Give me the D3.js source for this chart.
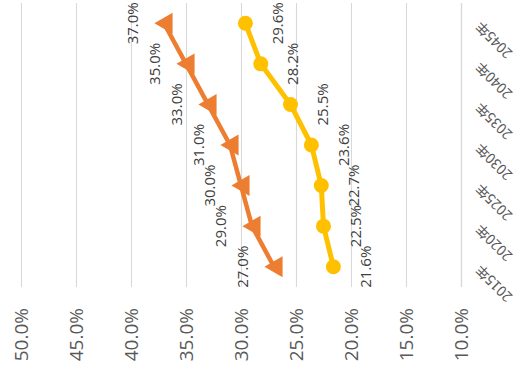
<!DOCTYPE html>
<html>
<head>
<meta charset="utf-8">
<script src="https://cdn.jsdelivr.net/npm/d3@7"></script>
<style>
  html, body { margin: 0; padding: 0; background: #fff; }
  svg { display: block; }
</style>
</head>
<body>
<svg id="chart" width="521" height="376"></svg>
<script>
// Categories and series (percent values)
const years = ["2015年", "2020年", "2025年", "2030年", "2035年", "2040年", "2045年"];
const orangeSeries = [27.0, 29.0, 30.0, 31.0, 33.0, 35.0, 37.0];
const yellowSeries = [21.6, 22.5, 22.7, 23.6, 25.5, 28.2, 29.6];
const valueTicks = [10, 15, 20, 25, 30, 35, 40, 45, 50];

const svg = d3.select("#chart");
const fontMain = "'Open Sans', 'Noto Sans CJK SC', sans-serif";

// Value axis runs right-to-left, categories bottom-to-top
const plotTop = 3, plotBottom = 287;
const x = d3.scaleLinear().domain([10, 50]).range([461, 21]);
const y = d3.scalePoint().domain(years).range([plotBottom, plotTop]).padding(0.5);

// Value axis with gridlines
const xAxis = svg.append("g")
  .attr("transform", `translate(0,${plotBottom})`)
  .call(d3.axisBottom(x)
    .tickValues(valueTicks)
    .tickSize(plotBottom - plotTop)
    .tickFormat(d => d.toFixed(1) + "%"));
xAxis.select(".domain").remove();
xAxis.selectAll(".tick line")
  .attr("y1", 0)
  .attr("y2", -(plotBottom - plotTop))
  .attr("stroke", "#d9d9d9")
  .attr("stroke-width", d => d === 10 ? 1.4 : 1.1);
xAxis.selectAll(".tick text")
  .attr("x", 0)
  .attr("y", 0)
  .attr("dy", "0.35em")
  .attr("transform", "translate(0,21) rotate(-90)")
  .attr("text-anchor", "end")
  .attr("fill", "#595959")
  .style("font-family", fontMain)
  .style("font-size", "19px");

// Category axis on the right, slanted labels
const yAxis = svg.append("g")
  .attr("transform", "translate(461,0)")
  .call(d3.axisRight(y).tickSize(0).tickPadding(0));
yAxis.select(".domain").remove();
yAxis.selectAll(".tick text")
  .attr("x", 0)
  .attr("y", 0)
  .attr("dy", "0.35em")
  .attr("transform", "translate(17,0) rotate(-135)")
  .attr("text-anchor", "end")
  .attr("fill", "#595959")
  .style("font-family", "'Noto Sans CJK SC', sans-serif")
  .style("font-size", "14px");

const line = d3.line()
  .x(d => x(d.v))
  .y(d => y(d.c));

function series(values) {
  return values.map((v, i) => ({ c: years[i], v }));
}

// Orange series: line + left-pointing triangles
const orange = series(orangeSeries);
svg.append("path")
  .datum(orange)
  .attr("d", line)
  .attr("fill", "none")
  .attr("stroke", "#ED7D31")
  .attr("stroke-width", 4.5)
  .attr("stroke-linejoin", "round");
svg.append("g").selectAll("path")
  .data(orange)
  .join("path")
  .attr("d", d3.symbol().type(d3.symbolTriangle).size(190))
  .attr("transform", d => `translate(${x(d.v) + 2.5},${y(d.c)}) rotate(-90)`)
  .attr("fill", "#ED7D31");

// Yellow series: line + circles
const yellow = series(yellowSeries);
svg.append("path")
  .datum(yellow)
  .attr("d", line)
  .attr("fill", "none")
  .attr("stroke", "#FFC000")
  .attr("stroke-width", 5)
  .attr("stroke-linejoin", "round");
svg.append("g").selectAll("circle")
  .data(yellow)
  .join("circle")
  .attr("cx", d => x(d.v))
  .attr("cy", d => y(d.c))
  .attr("r", 7.5)
  .attr("fill", "#FFC000");

// Data labels
function labels(data, offset) {
  svg.append("g").selectAll("text")
    .data(data)
    .join("text")
    .attr("transform", d => `translate(${x(d.v) + offset},${y(d.c)}) rotate(-90)`)
    .attr("text-anchor", "middle")
    .attr("dy", "0.35em")
    .attr("fill", "#404040")
    .style("font-family", fontMain)
    .style("font-size", "15px")
    .text(d => d.v.toFixed(1) + "%");
}
labels(orange, -31);
labels(yellow, 32);
</script>
</body>
</html>
